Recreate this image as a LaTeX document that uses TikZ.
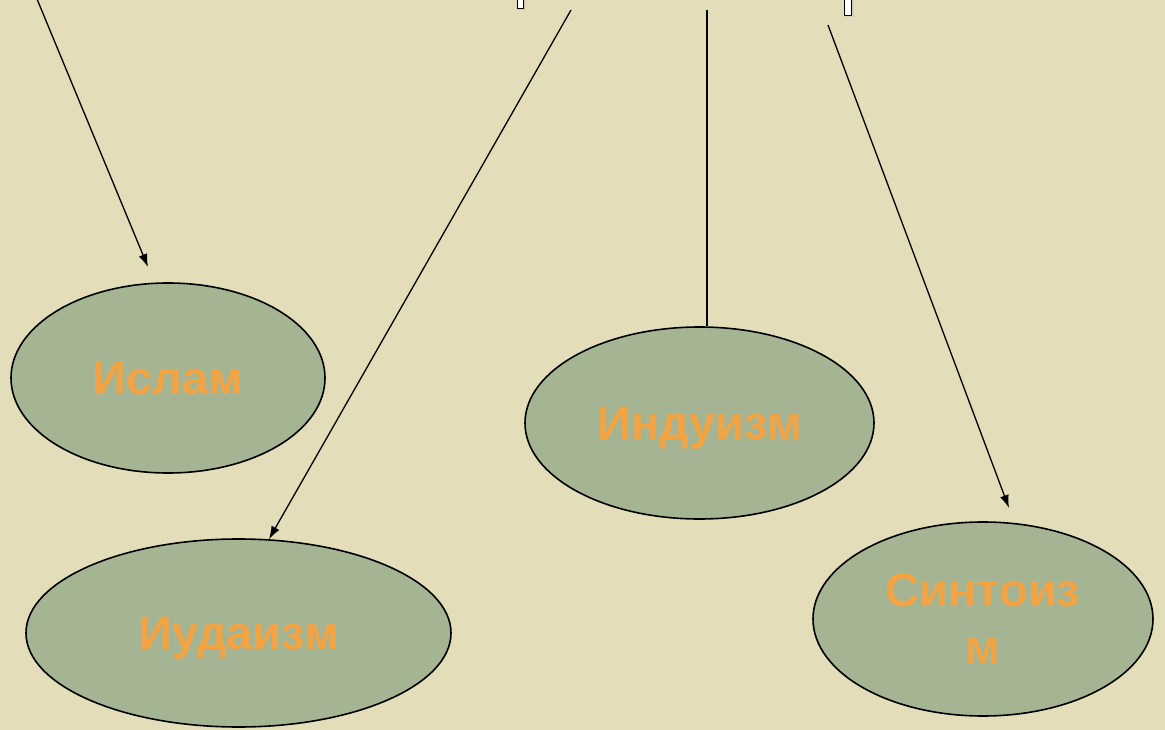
\documentclass[tikz,border=0pt]{standalone}
\usepackage{fontspec}
\setmainfont{Liberation Sans}
\usetikzlibrary{shapes.geometric,arrows.meta}
\definecolor{parch}{HTML}{E3DDBA}
\definecolor{sage}{HTML}{A5B593}
\definecolor{orng}{HTML}{F2A444}
\tikzset{
  relnode/.style={ellipse, draw=black, line width=1.6pt, fill=sage, inner sep=0pt,
    text=orng, font=\bfseries\fontsize{47}{57}\selectfont, align=center},
  conn/.style={draw=black, line width=1.3pt},
  arr/.style={conn, -{Latex[length=13pt,width=9pt]}},
  frag/.style={draw=black, line width=0.8pt, fill=white}
}
\begin{document}
\begin{tikzpicture}[x=1pt,y=-1pt]
\useasboundingbox (0,0) rectangle (1165,730);
\fill[parch] (0,0) rectangle (1165,730);
% fragments of cut-off title
\fill[black!25,opacity=0.5] (519,-1) rectangle (526,10);
\draw[frag] (517,-1) rectangle (523,8);
\fill[black!25,opacity=0.5] (846,-1) rectangle (854,17);
\draw[frag] (844,-1) rectangle (851,15);
% nodes
\node[relnode, minimum width=314pt, minimum height=190pt, text depth=0pt] (isl) at (168,378) {Ислам};
\node[relnode, minimum width=349pt, minimum height=192pt, text depth=0pt] (ind) at (699.5,423) {Индуизм};
\node[relnode, minimum width=425pt, minimum height=188pt, text depth=0pt] (iud) at (238.5,633) {Иудаизм};
\node[relnode, minimum width=340pt, minimum height=194pt] (sin) at (983,619) {Синтоиз\\м};
% connector ends
\coordinate (s1) at (37,-1);
\coordinate (e1) at (148,267);
\coordinate (s2) at (571,10);
\coordinate (s3) at (707,10);
\coordinate (s4) at (828,25);
\coordinate (e4) at (1009,508);
% connectors
\draw[arr] (s1) -- (e1);
\draw[arr] (s2) -- (iud.72.2);
\draw[conn] (s3) -- (s3 |- ind.north);
\draw[arr] (s4) -- (e4);
\end{tikzpicture}
\end{document}
